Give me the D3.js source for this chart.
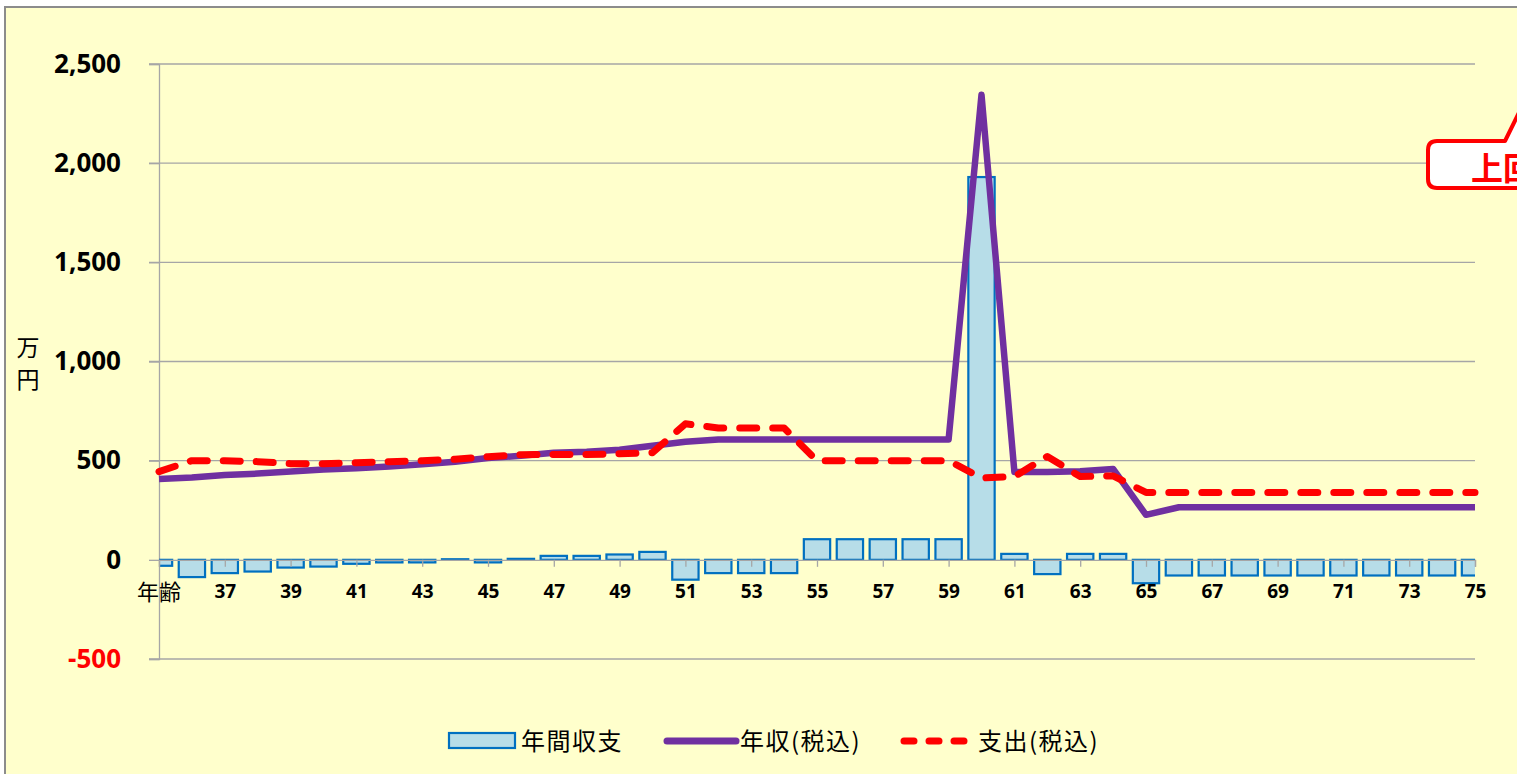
<!DOCTYPE html>
<meta charset="utf-8">
<head>
  <script src="https://d3js.org/d3.v7.min.js"></script>
  <style>
    body { margin: 0; background: #fff; }
    svg { display: block; }
  </style>
</head>
<body>
  <div id="my_dataviz"></div>
</body>
<script>
  // ages on the category axis (first one is shown as 年齢)
  const ages = [35, 36, 37, 38, 39, 40, 41, 42, 43, 44, 45, 46, 47, 48, 49, 50, 51, 52, 53, 54, 55,
    56, 57, 58, 59, 60, 61, 62, 63, 64, 65, 66, 67, 68, 69, 70, 71, 72, 73, 74, 75];
  // 年収(税込)
  const income = [408, 415, 428, 435, 445, 455, 462, 470, 482, 495, 513, 525, 540, 545, 555, 575, 595,
    607, 607, 607, 607, 607, 607, 607, 607, 2345, 443, 443, 447, 458, 227,
    265, 265, 265, 265, 265, 265, 265, 265, 265, 265];
  // 支出(税込)
  const expense = [445, 500, 500, 495, 485, 485, 490, 495, 500, 507, 520, 530, 531, 531, 535, 540, 686,
    665, 665, 665, 500, 500, 500, 500, 500, 413, 420, 521, 420, 423, 340,
    340, 340, 340, 340, 340, 340, 340, 340, 340, 340];
  // 年間収支
  const balance = [-30, -87, -67, -59, -39, -34, -20, -13, -13, 3, -13, 5, 20, 20, 27, 40, -100,
    -67, -67, -67, 104, 104, 104, 104, 104, 1930, 30, -72, 30, 30, -118,
    -79, -79, -79, -79, -79, -79, -79, -79, -79, -79];
  const yTicks = [-500, 0, 500, 1000, 1500, 2000, 2500];
  const xTicks = [35, 37, 39, 41, 43, 45, 47, 49, 51, 53, 55, 57, 59, 61, 63, 65, 67, 69, 71, 73, 75];
  const seriesNames = ["年間収支", "年収(税込)", "支出(税込)"];

  const W = 1517, H = 774;
  const plotLeft = 159, plotRight = 1475, plotTop = 64, plotBottom = 659;
  const jp = "'Noto Sans CJK JP', 'Noto Sans', sans-serif";
  const num = "'Noto Sans', 'DejaVu Sans', sans-serif";

  var svg = d3.select("#my_dataviz").append("svg")
    .attr("width", W).attr("height", H);

  // chart frame
  svg.append("rect")
    .attr("x", 5).attr("y", 7).attr("width", W + 20).attr("height", H + 20)
    .attr("fill", "#FFFFCC").attr("stroke", "#8c8c8c").attr("stroke-width", 2);

  var x = d3.scalePoint().domain(ages).range([plotLeft, plotRight]);
  var y = d3.scaleLinear().domain([-500, 2500]).range([plotBottom, plotTop]);
  const barW = x.step() * 0.8;

  // gridlines
  svg.append("g").selectAll("line")
    .data(yTicks.filter(d => d !== 0))
    .enter().append("line")
    .attr("x1", plotLeft - 10).attr("x2", plotRight)
    .attr("y1", d => y(d)).attr("y2", d => y(d))
    .attr("stroke", "#a6a6a6").attr("stroke-width", 1.3);

  // y axis
  const fmt = d3.format(",");
  var yAxis = svg.append("g")
    .attr("transform", "translate(" + plotLeft + ",0)")
    .call(d3.axisLeft(y).tickValues(yTicks).tickFormat(d => fmt(d).replace("−", "-")).tickSize(10).tickPadding(28));
  yAxis.select(".domain").attr("stroke", "#a6a6a6").attr("stroke-width", 1.3);
  yAxis.selectAll(".tick line").attr("stroke", "#a6a6a6").attr("stroke-width", 1.3);
  yAxis.selectAll("text")
    .attr("font-family", num).attr("font-size", 26).attr("font-weight", "bold")
    .attr("fill", d => d < 0 ? "#ff0000" : "#000");

  // bars, clipped to the plot area
  svg.append("clipPath").attr("id", "plotclip")
    .append("rect").attr("x", plotLeft).attr("y", 0).attr("width", plotRight - plotLeft).attr("height", H);

  svg.append("g").attr("clip-path", "url(#plotclip)")
    .selectAll("rect")
    .data(d3.zip(ages, balance))
    .enter().append("rect")
    .attr("x", d => x(d[0]) - barW / 2)
    .attr("width", barW)
    .attr("y", d => y(Math.max(0, d[1])))
    .attr("height", d => Math.abs(y(d[1]) - y(0)))
    .attr("fill", "#B7DDE8")
    .attr("stroke", "#0070C0")
    .attr("stroke-width", 2.2);

  // x axis
  var xAxis = svg.append("g")
    .attr("transform", "translate(0," + y(0) + ")")
    .call(d3.axisBottom(x).tickValues(xTicks).tickSize(7).tickFormat(d => d === 35 ? "" : d));
  xAxis.select(".domain").attr("stroke", "#a6a6a6").attr("stroke-width", 1.3);
  xAxis.selectAll(".tick line").attr("stroke", "#a6a6a6").attr("stroke-width", 1.3);
  xAxis.selectAll("text")
    .attr("dy", null).attr("y", 38)
    .attr("font-family", num).attr("font-size", 19).attr("font-weight", "bold").attr("fill", "#000");

  svg.append("text")
    .attr("x", plotLeft).attr("y", 600)
    .attr("text-anchor", "middle")
    .attr("font-family", jp).attr("font-size", 22).attr("fill", "#000")
    .text("年齢");

  // unit label
  svg.append("text")
    .attr("x", 28).attr("y", 356)
    .attr("text-anchor", "middle")
    .attr("font-family", jp).attr("font-size", 23).attr("fill", "#000")
    .text("万");
  svg.append("text")
    .attr("x", 28).attr("y", 388)
    .attr("text-anchor", "middle")
    .attr("font-family", jp).attr("font-size", 23).attr("fill", "#000")
    .text("円");

  var line = d3.line()
    .x(d => x(d[0]))
    .y(d => y(d[1]));

  svg.append("path")
    .attr("d", line(d3.zip(ages, income)))
    .attr("fill", "none")
    .attr("stroke", "#7030A0")
    .attr("stroke-width", 6.5)
    .attr("stroke-linejoin", "round");

  svg.append("path")
    .attr("d", line(d3.zip(ages, expense)))
    .attr("fill", "none")
    .attr("stroke", "#ff0000")
    .attr("stroke-width", 7)
    .attr("stroke-linecap", "round")
    .attr("stroke-linejoin", "round")
    .attr("stroke-dasharray", "17,16");

  // legend
  var lg = svg.append("g");
  lg.append("rect")
    .attr("x", 449).attr("y", 733).attr("width", 66).attr("height", 15)
    .attr("fill", "#B7DDE8").attr("stroke", "#0070C0").attr("stroke-width", 2.2);
  lg.append("line")
    .attr("x1", 667).attr("x2", 736).attr("y1", 741).attr("y2", 741)
    .attr("stroke", "#7030A0").attr("stroke-width", 7).attr("stroke-linecap", "round");
  lg.append("line")
    .attr("x1", 904).attr("x2", 972).attr("y1", 741).attr("y2", 741)
    .attr("stroke", "#ff0000").attr("stroke-width", 7).attr("stroke-linecap", "round")
    .attr("stroke-dasharray", "10,15");
  lg.selectAll("text")
    .data(seriesNames)
    .enter().append("text")
    .attr("x", (d, i) => [521, 740, 978][i])
    .attr("y", 750)
    .attr("font-family", jp).attr("font-size", 24).attr("letter-spacing", 1.5).attr("fill", "#000")
    .text(d => d);

  // callout (cut off by the right edge, as in the source)
  svg.append("path")
    .attr("d", "M1437,141 H1505 L1535,80 L1540,141 H1600 V188 H1437 Q1428,188 1428,179 V150 Q1428,141 1437,141 Z")
    .attr("fill", "#fff").attr("stroke", "#ff0000").attr("stroke-width", 4)
    .attr("stroke-linejoin", "round");
  svg.append("text")
    .attr("x", 1471).attr("y", 180)
    .attr("font-family", jp).attr("font-size", 32).attr("font-weight", "bold").attr("fill", "#ff0000")
    .text("上回る");
</script>
